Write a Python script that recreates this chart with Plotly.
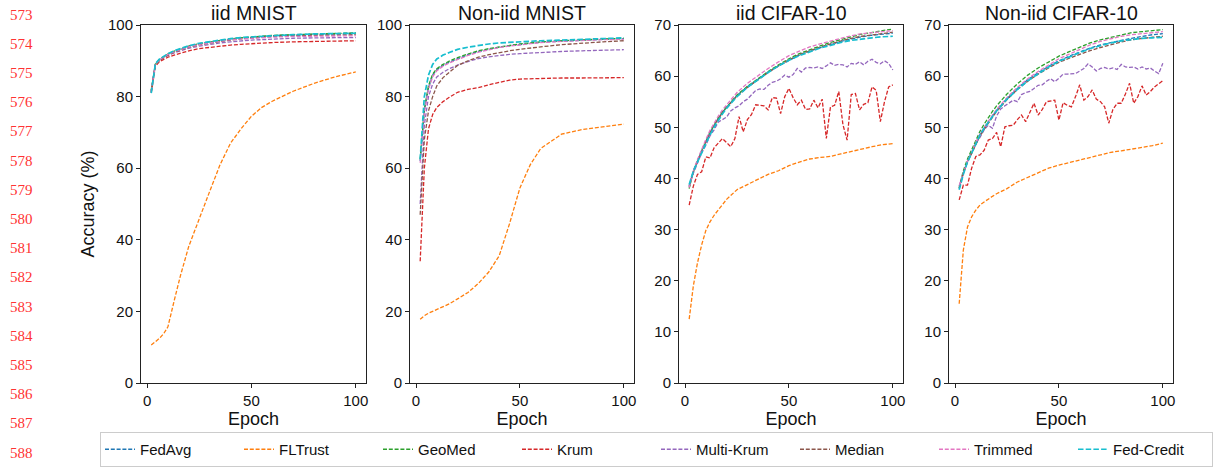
import plotly.graph_objects as go
from plotly.subplots import make_subplots

# ---------------- data ----------------
methods = ["FedAvg", "FLTrust", "GeoMed", "Krum", "Multi-Krum", "Median", "Trimmed", "Fed-Credit"]
colors = ["#1f77b4", "#ff7f0e", "#2ca02c", "#d62728", "#9467bd", "#8c564b", "#e377c2", "#17becf"]
titles = ["iid MNIST", "Non-iid MNIST", "iid CIFAR-10", "Non-iid CIFAR-10"]
line_numbers = list(range(573, 589))

epochs_mnist = [2, 4, 6, 8, 10, 13, 16, 20, 25, 30, 35, 40, 45, 50, 55, 60, 70, 80, 90, 100]
epochs_cifar = [2, 4, 6, 8, 10, 12, 14, 16, 18, 20, 25, 30, 35, 40, 45, 50, 55, 60, 65, 70, 75, 80, 85, 90, 95, 100]
epochs_all = list(range(2, 101, 2))

# iid MNIST
iid_mnist = {
    "FedAvg":     [81.5, 89.0, 90.3, 91.1, 91.8, 92.6, 93.2, 94.0, 94.7, 95.2, 95.6, 96.0, 96.3, 96.6, 96.8, 97.0, 97.2, 97.4, 97.6, 97.7],
    "FLTrust":    [10.6, 11.5, 12.5, 13.8, 15.7, 23.0, 30.0, 38.2, 46.0, 53.5, 61.0, 67.0, 71.0, 74.5, 77.0, 78.7, 81.5, 83.7, 85.5, 86.9],
    "GeoMed":     [81.8, 89.1, 90.4, 91.2, 91.9, 92.7, 93.3, 94.1, 94.8, 95.3, 95.7, 96.1, 96.4, 96.7, 96.9, 97.1, 97.3, 97.5, 97.7, 97.8],
    "Krum":       [81.0, 88.5, 89.8, 90.5, 91.0, 91.6, 92.2, 92.8, 93.4, 93.8, 94.1, 94.4, 94.6, 94.8, 94.9, 95.1, 95.3, 95.4, 95.5, 95.6],
    "Multi-Krum": [81.4, 89.0, 90.2, 90.9, 91.5, 92.2, 92.8, 93.5, 94.1, 94.6, 95.0, 95.3, 95.6, 95.8, 95.9, 96.1, 96.3, 96.4, 96.5, 96.5],
    "Median":     [81.3, 88.8, 90.1, 90.9, 91.6, 92.4, 93.0, 93.8, 94.5, 95.0, 95.4, 95.8, 96.1, 96.4, 96.6, 96.8, 97.0, 97.1, 97.2, 97.3],
    "Trimmed":    [81.5, 89.0, 90.3, 91.1, 91.8, 92.5, 93.1, 93.9, 94.6, 95.1, 95.5, 95.9, 96.1, 96.3, 96.5, 96.6, 96.8, 96.9, 97.0, 97.0],
    "Fed-Credit": [81.0, 89.2, 90.5, 91.3, 92.0, 92.8, 93.4, 94.2, 94.9, 95.4, 95.8, 96.2, 96.5, 96.7, 96.9, 97.1, 97.3, 97.5, 97.6, 97.7],
}

# Non-iid MNIST
noniid_mnist = {
    "FedAvg":     [62.0, 76.0, 82.5, 86.0, 87.5, 88.7, 89.6, 90.6, 91.7, 92.6, 93.3, 93.8, 94.2, 94.6, 94.9, 95.2, 95.5, 95.8, 96.0, 96.2],
    "FLTrust":    [17.8, 18.8, 19.5, 20.0, 20.5, 21.3, 22.1, 23.5, 25.3, 27.8, 31.0, 35.5, 44.5, 54.5, 61.0, 65.5, 69.5, 70.8, 71.5, 72.3],
    "GeoMed":     [62.5, 76.5, 83.0, 86.3, 87.8, 89.0, 89.9, 90.9, 91.9, 92.8, 93.4, 93.9, 94.3, 94.7, 95.0, 95.3, 95.6, 95.9, 96.1, 96.3],
    "Krum":       [34.0, 60.0, 71.0, 75.0, 77.0, 78.6, 79.8, 81.2, 82.0, 82.5, 83.3, 84.0, 84.6, 84.9, 85.0, 85.0, 85.2, 85.2, 85.2, 85.3],
    "Multi-Krum": [50.0, 72.0, 80.0, 83.5, 85.5, 86.8, 87.8, 88.8, 89.8, 90.6, 91.1, 91.5, 91.8, 92.0, 92.2, 92.4, 92.6, 92.8, 93.0, 93.1],
    "Median":     [47.0, 68.0, 76.0, 80.0, 83.0, 85.3, 86.8, 88.7, 90.0, 91.0, 91.7, 92.3, 92.8, 93.2, 93.6, 93.9, 94.5, 95.0, 95.3, 95.6],
    "Trimmed":    [61.5, 75.5, 82.0, 85.5, 87.2, 88.5, 89.4, 90.4, 91.5, 92.4, 93.1, 93.7, 94.1, 94.5, 94.8, 95.1, 95.4, 95.7, 95.9, 96.0],
    "Fed-Credit": [62.5, 80.0, 86.0, 89.0, 90.5, 91.6, 92.3, 93.2, 93.8, 94.3, 94.7, 95.0, 95.2, 95.3, 95.5, 95.6, 95.8, 96.0, 96.2, 96.4],
}

# iid CIFAR-10 (smooth series on epochs_cifar; Krum / Multi-Krum on epochs_all)
iid_cifar = {
    "FedAvg":     [38.6, 41.4, 43.4, 45.4, 47.2, 48.9, 50.4, 51.7, 52.9, 53.9, 56.2, 57.9, 59.4, 60.8, 62.0, 63.1, 64.1, 64.9, 65.6, 66.2, 66.8, 67.3, 67.7, 68.0, 68.2, 68.4],
    "FLTrust":    [12.5, 19.0, 23.5, 27.0, 29.8, 31.5, 32.8, 33.9, 35.0, 35.9, 37.8, 38.8, 39.7, 40.8, 41.5, 42.5, 43.2, 43.8, 44.1, 44.3, 44.8, 45.3, 45.8, 46.2, 46.6, 46.8],
    "GeoMed":     [38.0, 41.3, 43.4, 45.5, 47.3, 49.0, 50.5, 51.8, 53.0, 54.0, 56.3, 58.0, 59.5, 60.9, 62.2, 63.4, 64.4, 65.2, 65.9, 66.6, 67.2, 67.7, 68.2, 68.6, 68.9, 69.2],
    "Krum":       [34.8, 38.5, 40.8, 41.3, 44.2, 44.0, 46.0, 47.0, 47.8, 47.0, 46.2, 47.8, 52.1, 49.1, 51.5, 52.5, 54.4, 54.3, 54.2, 53.4,
                   55.8, 55.7, 52.7, 56.0, 57.6, 55.8, 54.4, 55.3, 53.5, 53.6, 55.3, 53.8, 55.5, 47.8, 54.0, 54.3, 57.0, 50.5, 47.5, 56.4,
                   56.6, 53.4, 54.5, 54.8, 57.9, 57.2, 51.1, 55.0, 57.9, 58.3],
    "Multi-Krum": [38.5, 41.0, 43.0, 45.0, 46.5, 48.3, 49.5, 51.0, 51.5, 52.0, 53.2, 53.8, 54.2, 55.0, 55.5, 56.3, 57.2, 57.5, 57.4, 58.2,
                   58.8, 59.0, 59.5, 60.2, 59.8, 60.3, 61.5, 60.8, 61.6, 61.7, 61.6, 61.8, 61.5, 62.0, 62.6, 62.1, 62.3, 62.2, 61.8, 62.5,
                   62.3, 62.8, 62.2, 62.9, 63.3, 62.7, 62.4, 63.0, 62.5, 61.2],
    "Median":     [38.3, 41.4, 43.5, 45.4, 47.2, 48.9, 50.4, 51.7, 52.9, 53.9, 56.1, 57.8, 59.3, 60.7, 62.0, 63.2, 64.2, 65.0, 65.7, 66.3, 66.9, 67.4, 67.8, 68.1, 68.4, 68.6],
    "Trimmed":    [38.2, 41.5, 43.7, 45.8, 47.6, 49.4, 50.9, 52.2, 53.4, 54.4, 56.8, 58.6, 60.1, 61.5, 62.8, 64.0, 64.9, 65.7, 66.3, 66.9, 67.4, 67.9, 68.3, 68.5, 68.7, 68.9],
    "Fed-Credit": [38.8, 41.4, 43.2, 45.0, 46.8, 48.5, 50.0, 51.4, 52.6, 53.7, 56.0, 57.8, 59.3, 60.7, 62.0, 63.1, 64.0, 64.8, 65.5, 66.0, 66.6, 67.0, 67.3, 67.5, 67.7, 67.8],
}

# Non-iid CIFAR-10
noniid_cifar = {
    "FedAvg":     [38.0, 41.0, 43.3, 45.0, 47.0, 48.5, 49.8, 51.0, 52.2, 53.3, 55.6, 57.6, 59.3, 60.7, 61.9, 63.0, 63.9, 64.7, 65.5, 66.1, 66.6, 67.0, 67.4, 67.8, 68.1, 68.3],
    "FLTrust":    [15.5, 26.0, 30.5, 32.5, 33.8, 34.8, 35.4, 36.0, 36.5, 37.0, 38.0, 39.3, 40.2, 41.0, 42.0, 42.6, 43.1, 43.6, 44.1, 44.7, 45.1, 45.4, 45.7, 46.0, 46.4, 46.9],
    "GeoMed":     [38.2, 41.5, 43.8, 45.6, 47.6, 49.2, 50.6, 51.9, 53.1, 54.2, 56.5, 58.5, 60.2, 61.6, 62.8, 63.9, 64.8, 65.7, 66.5, 67.1, 67.6, 68.1, 68.5, 68.7, 68.9, 69.1],
    "Krum":       [35.8, 38.7, 38.7, 42.0, 44.3, 44.6, 45.5, 47.5, 47.8, 49.0, 46.2, 50.1, 50.3, 50.4, 51.5, 52.4, 51.1, 53.0, 54.7, 52.4,
                   53.5, 55.0, 55.2, 55.3, 51.4, 54.8, 54.3, 54.0, 56.0, 58.3, 55.3, 56.0, 57.3, 55.5, 55.0, 54.0, 50.8, 53.5, 54.7, 54.7,
                   56.5, 58.6, 54.7, 56.0, 58.1, 56.3, 57.0, 57.9, 58.5, 59.1],
    "Multi-Krum": [38.5, 41.0, 43.3, 45.0, 46.8, 48.0, 49.5, 50.4, 49.8, 52.2, 53.6, 54.2, 54.7, 55.3, 55.0, 56.4, 56.8, 57.0, 57.6, 58.2,
                   58.3, 59.0, 59.5, 58.9, 59.6, 60.4, 60.4, 60.5, 60.5, 61.0, 61.5, 62.4, 61.8, 61.0, 61.5, 61.7, 61.4, 61.6, 61.3, 62.3,
                   61.8, 61.7, 61.8, 61.4, 61.8, 61.4, 61.6, 61.0, 60.5, 62.5],
    "Median":     [38.1, 41.1, 43.2, 44.9, 46.8, 48.3, 49.6, 50.8, 52.0, 53.1, 55.4, 57.4, 59.0, 60.4, 61.6, 62.7, 63.5, 64.3, 65.0, 65.6, 66.2, 66.7, 67.1, 67.4, 67.6, 67.8],
    "Trimmed":    [38.6, 41.2, 43.4, 45.1, 47.1, 48.7, 50.0, 51.2, 52.4, 53.5, 55.8, 57.8, 59.5, 60.9, 62.2, 63.4, 64.3, 65.2, 66.1, 66.8, 67.3, 67.8, 68.1, 68.3, 68.5, 68.7],
    "Fed-Credit": [37.8, 40.8, 43.2, 45.0, 47.0, 48.5, 49.8, 51.0, 52.1, 53.2, 55.5, 57.4, 59.1, 60.5, 61.8, 62.9, 63.8, 64.6, 65.4, 66.0, 66.5, 66.9, 67.2, 67.4, 67.5, 67.6],
}

panels = [
    (iid_mnist, epochs_mnist, 100, [0, 20, 40, 60, 80, 100]),
    (noniid_mnist, epochs_mnist, 100, [0, 20, 40, 60, 80, 100]),
    (iid_cifar, epochs_cifar, 70, [0, 10, 20, 30, 40, 50, 60, 70]),
    (noniid_cifar, epochs_cifar, 70, [0, 10, 20, 30, 40, 50, 60, 70]),
]

# ---------------- figure ----------------
W, H = 1220, 468
FONT = "Liberation Sans, Arial, sans-serif"
fig = make_subplots(rows=1, cols=4)

x_px = [(141, 366), (410, 634), (679, 903), (949, 1173)]
y_dom = [(H - 383) / H, (H - 25) / H]

for p, (data, ep, ymax, yt) in enumerate(panels):
    col = p + 1
    for m, c in zip(methods, colors):
        vals = data[m]
        xs = ep if len(vals) == len(ep) else epochs_all
        is_fc = m == "Fed-Credit"
        fig.add_trace(
            go.Scatter(
                x=xs, y=vals, mode="lines", name=m, legendgroup=m,
                showlegend=(p == 0),
                line=dict(color=c, width=1.7 if is_fc else 1.3,
                          dash="5.5px,2.2px" if is_fc else "4px,1.8px"),
            ),
            row=1, col=col,
        )
    axis_common = dict(
        showgrid=False, zeroline=False, showline=True, mirror=True,
        linecolor="#222", linewidth=1, ticks="outside", ticklen=4,
        tickwidth=1, tickcolor="#222",
        tickfont=dict(family=FONT, size=15, color="#111"),
    )
    fig.update_xaxes(
        domain=[x_px[p][0] / W, x_px[p][1] / W], range=[-2.9, 104.9],
        tickvals=[0, 50, 100],
        title=dict(text="Epoch", font=dict(family=FONT, size=18, color="#111"), standoff=4),
        row=1, col=col, **axis_common,
    )
    fig.update_yaxes(
        domain=list(y_dom), range=[0, ymax], tickvals=yt,
        row=1, col=col, **axis_common,
    )
    fig.add_annotation(
        text=titles[p], xref="paper", yref="paper",
        x=(x_px[p][0] + x_px[p][1]) / 2 / W, y=(H - 12.5) / H,
        xanchor="center", yanchor="middle", showarrow=False,
        font=dict(family=FONT, size=19.5, color="#111"),
    )

fig.update_yaxes(
    title=dict(text="Accuracy (%)", font=dict(family=FONT, size=18, color="#111"), standoff=8),
    row=1, col=1,
)

for i, n in enumerate(line_numbers):
    fig.add_annotation(
        text=str(n), xref="paper", yref="paper",
        x=21 / W, y=(H - (14.5 + i * 29.2)) / H,
        xanchor="center", yanchor="middle", showarrow=False,
        font=dict(family="Liberation Serif, Times New Roman, serif", size=15, color="#ff3333"),
    )

fig.update_layout(
    width=W, height=H, autosize=False,
    margin=dict(l=0, r=0, t=0, b=0, autoexpand=False),
    paper_bgcolor="white", plot_bgcolor="white",
    font=dict(family=FONT, color="#111"),
    legend=dict(
        orientation="h", x=100 / W, y=(H - 432) / H, xanchor="left", yanchor="top",
        bordercolor="#cccccc", borderwidth=1, bgcolor="white",
        font=dict(family=FONT, size=15, color="#111"),
        entrywidth=94, entrywidthmode="pixels", itemwidth=30,
    ),
)

fig.write_html(
    "out.html",
    config={"displayModeBar": False},
    post_script="document.body.style.margin='0';",
)
